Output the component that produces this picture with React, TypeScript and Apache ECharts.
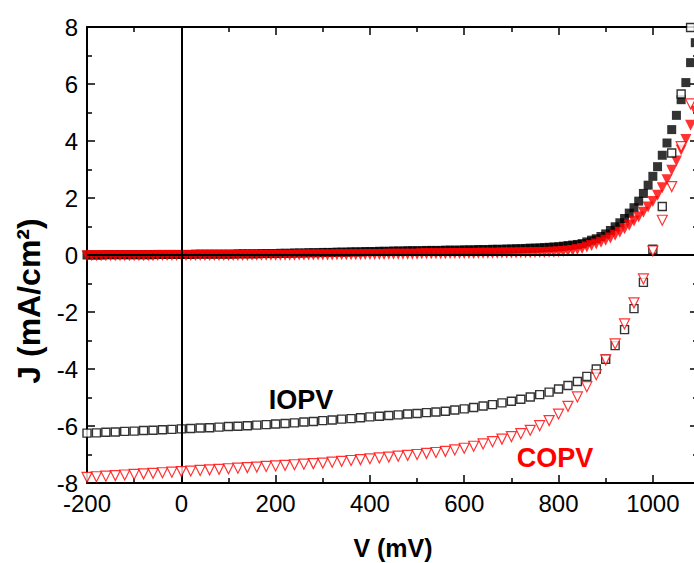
import React, { useEffect, useRef } from "react";
import * as echarts from "echarts";

// Illuminated J-V curves (20 mV steps)
const vLight = [
  -200, -180, -160, -140, -120, -100, -80, -60, -40, -20,
  0, 20, 40, 60, 80, 100, 120, 140, 160, 180,
  200, 220, 240, 260, 280, 300, 320, 340, 360, 380,
  400, 420, 440, 460, 480, 500, 520, 540, 560, 580,
  600, 620, 640, 660, 680, 700, 720, 740, 760, 780,
  800, 820, 840, 860, 880, 900, 920, 940, 960, 980,
  1000, 1020, 1040, 1060, 1080,
];
const jIOPVLight = [
  -6.25, -6.24, -6.22, -6.21, -6.19, -6.18, -6.16, -6.15, -6.13, -6.12,
  -6.10, -6.09, -6.07, -6.06, -6.04, -6.02, -6.01, -5.99, -5.97, -5.95,
  -5.93, -5.91, -5.89, -5.86, -5.84, -5.81, -5.79, -5.76, -5.74, -5.71,
  -5.68, -5.66, -5.63, -5.61, -5.58, -5.56, -5.53, -5.51, -5.48, -5.44,
  -5.40, -5.35, -5.30, -5.25, -5.19, -5.13, -5.06, -4.98, -4.90, -4.81,
  -4.70, -4.58, -4.44, -4.26, -4.00, -3.66, -3.18, -2.62, -1.88, -0.96,
  0.20, 1.70, 3.58, 5.65, 7.98,
];
const jCOPVLight = [
  -7.80, -7.78, -7.76, -7.74, -7.72, -7.70, -7.68, -7.66, -7.64, -7.62,
  -7.60, -7.58, -7.56, -7.54, -7.52, -7.50, -7.48, -7.46, -7.44, -7.42,
  -7.40, -7.38, -7.36, -7.34, -7.32, -7.30, -7.27, -7.24, -7.21, -7.18,
  -7.15, -7.12, -7.09, -7.06, -7.03, -7.00, -6.96, -6.93, -6.89, -6.84,
  -6.78, -6.71, -6.63, -6.55, -6.46, -6.37, -6.27, -6.15, -5.99, -5.81,
  -5.58, -5.31, -4.98, -4.62, -4.20, -3.68, -3.12, -2.42, -1.68, -0.84,
  0.14, 1.22, 2.40, 3.80, 5.30,
];

// Dark J-V curves (10 mV steps)
const vDark = [
  -200, -190, -180, -170, -160, -150, -140, -130, -120, -110,
  -100, -90, -80, -70, -60, -50, -40, -30, -20, -10,
  0, 10, 20, 30, 40, 50, 60, 70, 80, 90,
  100, 110, 120, 130, 140, 150, 160, 170, 180, 190,
  200, 210, 220, 230, 240, 250, 260, 270, 280, 290,
  300, 310, 320, 330, 340, 350, 360, 370, 380, 390,
  400, 410, 420, 430, 440, 450, 460, 470, 480, 490,
  500, 510, 520, 530, 540, 550, 560, 570, 580, 590,
  600, 610, 620, 630, 640, 650, 660, 670, 680, 690,
  700, 710, 720, 730, 740, 750, 760, 770, 780, 790,
  800, 810, 820, 830, 840, 850, 860, 870, 880, 890,
  900, 910, 920, 930, 940, 950, 960, 970, 980, 990,
  1000, 1010, 1020, 1030, 1040, 1050, 1060, 1070, 1080, 1090,
];
const jIOPVDark = [
  0.00, 0.00, 0.00, 0.00, 0.01, 0.01, 0.01, 0.01, 0.01, 0.01,
  0.01, 0.01, 0.01, 0.01, 0.01, 0.02, 0.02, 0.02, 0.02, 0.02,
  0.02, 0.02, 0.02, 0.03, 0.03, 0.03, 0.03, 0.03, 0.03, 0.03,
  0.03, 0.03, 0.04, 0.04, 0.04, 0.04, 0.04, 0.05, 0.05, 0.05,
  0.05, 0.06, 0.06, 0.06, 0.07, 0.07, 0.07, 0.08, 0.08, 0.08,
  0.09, 0.09, 0.09, 0.10, 0.10, 0.10, 0.11, 0.11, 0.11, 0.12,
  0.12, 0.12, 0.13, 0.13, 0.13, 0.14, 0.14, 0.14, 0.15, 0.15,
  0.15, 0.15, 0.16, 0.16, 0.16, 0.16, 0.17, 0.17, 0.17, 0.17,
  0.18, 0.18, 0.18, 0.19, 0.19, 0.19, 0.20, 0.20, 0.20, 0.21,
  0.21, 0.22, 0.22, 0.23, 0.24, 0.24, 0.25, 0.26, 0.27, 0.28,
  0.29, 0.31, 0.33, 0.35, 0.37, 0.40, 0.46, 0.52, 0.57, 0.65,
  0.74, 0.86, 0.99, 1.13, 1.28, 1.47, 1.66, 1.89, 2.16, 2.45,
  2.76, 3.10, 3.50, 3.93, 4.40, 4.90, 5.45, 6.05, 6.75, 7.45,
];
const jCOPVDark = [
  -0.03, -0.03, -0.03, -0.03, -0.03, -0.03, -0.03, -0.03, -0.03, -0.03,
  -0.03, -0.03, -0.03, -0.03, -0.03, -0.02, -0.02, -0.02, -0.02, -0.02,
  -0.02, -0.02, -0.02, -0.02, -0.02, -0.02, -0.02, -0.02, -0.02, -0.02,
  -0.02, -0.02, -0.02, -0.02, -0.02, -0.01, -0.01, -0.01, -0.01, -0.01,
  -0.01, -0.01, -0.01, -0.01, -0.01, 0.00, 0.00, 0.00, 0.00, 0.00,
  0.00, 0.00, 0.00, 0.01, 0.01, 0.01, 0.01, 0.01, 0.01, 0.02,
  0.02, 0.02, 0.02, 0.02, 0.03, 0.03, 0.03, 0.03, 0.03, 0.03,
  0.03, 0.04, 0.04, 0.04, 0.04, 0.04, 0.04, 0.05, 0.05, 0.05,
  0.05, 0.05, 0.05, 0.06, 0.06, 0.06, 0.06, 0.06, 0.07, 0.07,
  0.07, 0.07, 0.08, 0.08, 0.08, 0.09, 0.09, 0.09, 0.10, 0.10,
  0.11, 0.12, 0.14, 0.16, 0.19, 0.23, 0.28, 0.33, 0.39, 0.45,
  0.52, 0.60, 0.69, 0.80, 0.92, 1.04, 1.19, 1.33, 1.50, 1.68,
  1.88, 2.10, 2.36, 2.64, 2.97, 3.30, 3.68, 4.05, 4.55, 5.05,
];

const xMin = -200;
const xMax = 1100;
const xLastLabel = 1000;
const yMin = -8;
const yMax = 8;

const labelIOPV = "IOPV";
const labelCOPV = "COPV";
const xTitle = "V (mV)";
const yTitle = "J (mA/cm²)";

const FONT = '"Liberation Sans", Arial, Helvetica, sans-serif';
const BLACK = "#000000";
const RED = "#ff0000";

export default function App() {
  const ref = useRef<HTMLDivElement>(null);

  useEffect(() => {
    if (!ref.current) return;
    const chart = echarts.init(ref.current, null, { renderer: "svg" });

    const pair = (xs: number[], ys: number[]) => xs.map((x, i) => [x, ys[i]]);

    const baseX = (position: "bottom" | "top", showLabel: boolean) => ({
      type: "value",
      min: xMin,
      max: xMax,
      interval: 200,
      position,
      axisLine: { show: true, onZero: false, lineStyle: { color: BLACK, width: 2 } },
      axisTick: { show: true, inside: true, length: 8, lineStyle: { color: BLACK, width: 1.5 } },
      minorTick: { show: true, splitNumber: 2, length: 5, lineStyle: { color: BLACK, width: 1.5 } },
      axisLabel: {
        show: showLabel,
        fontSize: 24,
        fontFamily: FONT,
        color: BLACK,
        margin: 8,
        showMaxLabel: false,
        formatter: (v: number) => (v > xLastLabel ? "" : String(v)),
      },
      splitLine: { show: false },
    });

    const baseY = (position: "left" | "right", showLabel: boolean, tickLen: number) => ({
      type: "value",
      min: yMin,
      max: yMax,
      interval: 2,
      position,
      axisLine: { show: true, onZero: false, lineStyle: { color: BLACK, width: 2 } },
      axisTick: { show: true, inside: true, length: tickLen, lineStyle: { color: BLACK, width: 1.5 } },
      minorTick: { show: true, splitNumber: 2, length: tickLen - 3, lineStyle: { color: BLACK, width: 1.5 } },
      axisLabel: {
        show: showLabel,
        fontSize: 24,
        fontFamily: FONT,
        color: BLACK,
        margin: 9,
      },
      splitLine: { show: false },
    });

    chart.setOption({
      animation: false,
      backgroundColor: "#ffffff",
      grid: {
        left: 87,
        top: 27,
        width: 613,
        height: 456,
        containLabel: false,
        outerBoundsMode: "none",
      },
      xAxis: [baseX("bottom", true), baseX("top", false)],
      yAxis: [baseY("left", true, 8), baseY("right", false, 10)],
      graphic: [
        {
          type: "text",
          x: 393,
          y: 548,
          style: {
            text: xTitle,
            fontSize: 25,
            fontWeight: "bold",
            fontFamily: FONT,
            fill: BLACK,
            align: "center",
            verticalAlign: "middle",
          },
        },
        {
          type: "text",
          x: 29,
          y: 301,
          rotation: Math.PI / 2,
          style: {
            text: yTitle,
            fontSize: 32,
            fontWeight: "bold",
            fontFamily: FONT,
            fill: BLACK,
            align: "center",
            verticalAlign: "middle",
          },
        },
        {
          type: "text",
          x: 301,
          y: 400,
          style: {
            text: labelIOPV,
            fontSize: 27,
            fontWeight: "bold",
            fontFamily: FONT,
            fill: BLACK,
            align: "center",
            verticalAlign: "middle",
          },
        },
        {
          type: "text",
          x: 555,
          y: 458,
          style: {
            text: labelCOPV,
            fontSize: 27,
            fontWeight: "bold",
            fontFamily: FONT,
            fill: RED,
            align: "center",
            verticalAlign: "middle",
          },
        },
      ],
      series: [
        {
          type: "line",
          data: [],
          z: 1,
          silent: true,
          markLine: {
            silent: true,
            symbol: "none",
            label: { show: false },
            lineStyle: { color: BLACK, width: 2, type: "solid" },
            data: [{ xAxis: 0 }, { yAxis: 0 }],
          },
        },
        {
          name: "IOPV dark",
          type: "scatter",
          z: 2,
          symbol: "rect",
          symbolSize: 9,
          itemStyle: { color: BLACK },
          data: pair(vDark, jIOPVDark),
        },
        {
          name: "COPV dark",
          type: "scatter",
          z: 3,
          symbol: "triangle",
          symbolRotate: 180,
          symbolSize: 11,
          itemStyle: { color: RED },
          data: pair(vDark, jCOPVDark),
        },
        {
          name: "IOPV",
          type: "scatter",
          z: 4,
          symbol: "rect",
          symbolSize: 8,
          itemStyle: { color: "#ffffff", borderColor: BLACK, borderWidth: 1.4 },
          data: pair(vLight, jIOPVLight),
        },
        {
          name: "COPV",
          type: "scatter",
          z: 5,
          symbol: "triangle",
          symbolRotate: 180,
          symbolSize: 10,
          itemStyle: { color: "#ffffff", borderColor: RED, borderWidth: 1.2 },
          data: pair(vLight, jCOPVLight),
        },
      ],
    });

    return () => chart.dispose();
  }, []);

  return (
    <div
      ref={ref}
      style={{ position: "fixed", left: 0, top: 0, width: 694, height: 563, background: "#ffffff" }}
    />
  );
}
